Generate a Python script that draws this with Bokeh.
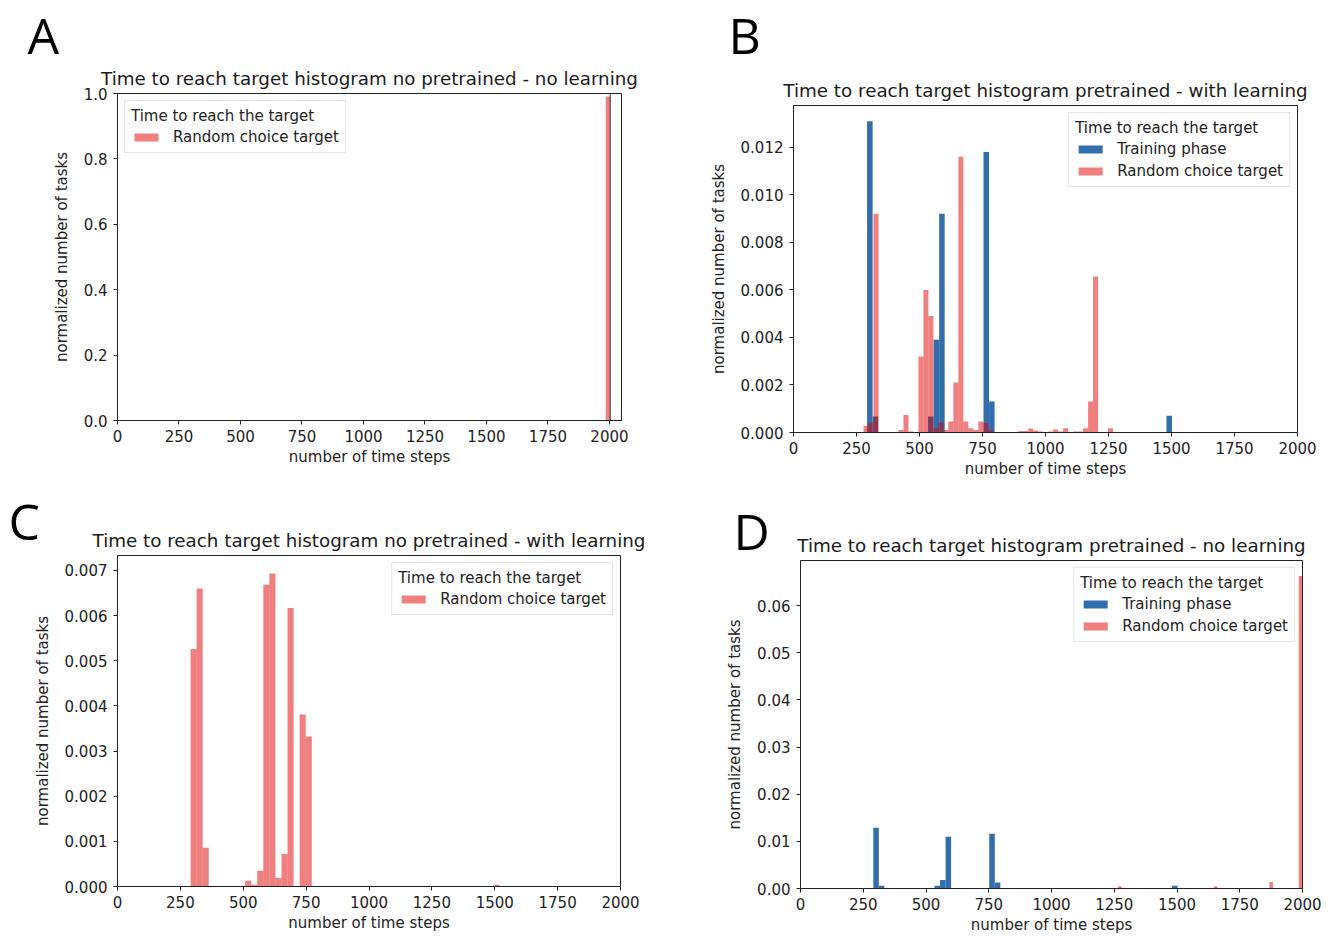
from bokeh.plotting import figure
from bokeh.models import (ColumnDataSource, Range1d, FixedTicker, PrintfTickFormatter,
                          Label, Legend, LegendItem, Span)
from bokeh.layouts import column, row
from bokeh.embed import file_html
from bokeh.resources import INLINE

# ---------------- data ----------------
X_TICKS = [0, 250, 500, 750, 1000, 1250, 1500, 1750, 2000]

# Panel A: no pretrained - no learning
A_RANDOM_LEFT = [1985]
A_RANDOM_WIDTH = 17
A_RANDOM_HEIGHT = [0.99]

# Panel B: pretrained - with learning
B_TRAIN_LEFT = [292, 314, 534, 556, 578, 754, 776, 1480]
B_TRAIN_WIDTH = 22
B_TRAIN_HEIGHT = [0.0131, 0.00067, 0.00067, 0.0039, 0.0092, 0.0118, 0.0013, 0.0007]

B_RANDOM_LEFT = [278.0, 297.8, 317.6, 416.6, 436.4, 456.2, 495.8, 515.6, 535.4, 555.2,
                 575.0, 594.8, 614.6, 634.4, 654.2, 674.0, 693.8, 713.6, 733.4, 753.2,
                 773.0, 891.8, 911.6, 931.4, 951.2, 971.0, 1010.6, 1030.4, 1050.2, 1070.0,
                 1109.6, 1129.4, 1149.2, 1169.0, 1188.8, 1248.2]
B_RANDOM_WIDTH = 19.8
B_RANDOM_HEIGHT = [0.00028, 0.00042, 0.0092, 0.0001, 0.00074, 0.00004, 0.0032, 0.0060, 0.0049, 0.00018,
                   0.00042, 0.0001, 0.00046, 0.0021, 0.0116, 0.00046, 0.00018, 0.0001, 0.00046, 0.0004,
                   0.0001, 0.00006, 0.00006, 0.00017, 0.00008, 0.00004, 0.00004, 0.00013, 0.00004, 0.00018,
                   0.00004, 0.00004, 0.00018, 0.0013, 0.00656, 0.00018]

# Panel C: no pretrained - with learning
C_RANDOM_LEFT = [290.5, 314.6, 338.7, 507.4, 531.5, 555.6, 579.7, 603.8, 627.9, 652.0,
                 676.1, 724.3, 748.4, 1495.5]
C_RANDOM_WIDTH = 24.1
C_RANDOM_HEIGHT = [0.00526, 0.0066, 0.00086, 0.00013, 0.00004, 0.00035, 0.00668, 0.00693, 0.00019, 0.00072,
                   0.00617, 0.00381, 0.00332, 0.00004]

# Panel D: pretrained - no learning
D_TRAIN_LEFT = [290, 312, 534, 556, 578, 752, 774, 1480]
D_TRAIN_WIDTH = 22
D_TRAIN_HEIGHT = [0.0129, 0.00056, 0.00056, 0.0018, 0.0110, 0.0116, 0.00125, 0.00056]

D_RANDOM_LEFT = [1265, 1647, 1868, 1985.3]
D_RANDOM_WIDTH = 14.7
D_RANDOM_HEIGHT = [0.0005, 0.0005, 0.0014, 0.0663]

BLUE = "#326eab"
RED = "#e10000"
RED_ALPHA = 0.5
FONT = "DejaVu Sans"
LEGEND_TITLE = "Time to reach the target"
TXT = "15px"


def src(lefts, width, heights):
    return ColumnDataSource(dict(left=lefts, right=[l + width for l in lefts],
                                 top=heights, bottom=[0] * len(heights)))


def make_panel(title, letter, letter_xy, letter_side, width, height, borders, xmax, ymax,
               yticks, yfmt, series, legend_loc):
    left, right, top, bottom = borders
    p = figure(width=width, height=height, output_backend="svg", toolbar_location=None,
               x_range=Range1d(0, xmax), y_range=Range1d(0, ymax),
               min_border_left=left, min_border_right=right,
               min_border_top=top, min_border_bottom=bottom)
    p.background_fill_color = "white"
    p.border_fill_color = "white"
    p.outline_line_color = "#222222"
    p.outline_line_width = 1
    p.xgrid.visible = False
    p.ygrid.visible = False

    p.title.text = title
    p.title.text_font = FONT
    p.title.text_font_size = "18.3px"
    p.title.text_font_style = "normal"
    p.title.text_color = "#1a1a1a"
    p.title.align = "center"
    p.title.standoff = 9

    for ax in (p.xaxis[0], p.yaxis[0]):
        ax.axis_line_color = "#222222"
        ax.major_tick_line_color = "#222222"
        ax.major_tick_out = 4
        ax.major_tick_in = 0
        ax.minor_tick_line_color = None
        ax.major_label_text_font = FONT
        ax.major_label_text_font_size = TXT
        ax.major_label_text_color = "#222222"
        ax.axis_label_text_font = FONT
        ax.axis_label_text_font_size = TXT
        ax.axis_label_text_font_style = "normal"
        ax.axis_label_text_color = "#222222"

    p.xaxis.ticker = FixedTicker(ticks=X_TICKS)
    p.xaxis.axis_label = "number of time steps"
    p.xaxis.major_label_standoff = 5
    p.xaxis.axis_label_standoff = 3
    p.yaxis.ticker = FixedTicker(ticks=yticks)
    p.yaxis.formatter = PrintfTickFormatter(format=yfmt)
    p.yaxis.axis_label = "normalized number of tasks"
    p.yaxis.major_label_standoff = 6
    p.yaxis.axis_label_standoff = 10

    items = []
    for label, s, color, alpha in series:
        r = p.quad(left="left", right="right", top="top", bottom="bottom", source=s,
                   fill_color=color, fill_alpha=alpha, line_color=None)
        items.append(LegendItem(label=label, renderers=[r]))

    leg = Legend(items=items, location=legend_loc, title=LEGEND_TITLE)
    leg.title_text_font = FONT
    leg.title_text_font_size = TXT
    leg.title_text_font_style = "normal"
    leg.title_text_color = "#222222"
    leg.title_standoff = 3
    leg.label_text_font = FONT
    leg.label_text_font_size = TXT
    leg.label_text_color = "#222222"
    leg.glyph_width = 30
    leg.glyph_height = 10
    leg.label_height = 18
    leg.label_standoff = 12
    leg.spacing = 4
    leg.padding = 6
    leg.margin = 7
    leg.border_line_color = "#cccccc"
    leg.border_line_width = 1
    leg.background_fill_alpha = 0.85
    p.add_layout(leg)

    # panel letter, placed in a side panel (with room to spare) so it is not clipped to the frame
    p.add_layout(Label(x=letter_xy[0], y=letter_xy[1], x_units="canvas", y_units="canvas",
                       text=letter, text_font="Open Sans", text_font_size="50px",
                       text_color="black", text_baseline="alphabetic", text_align="left"),
                 letter_side)
    return p


pA = make_panel("Time to reach target histogram no pretrained - no learning", "A", (27, 34), "right",
                680, 480, (117, 59, 93, 60), 2049, 1.0,
                [0.0, 0.2, 0.4, 0.6, 0.8, 1.0], "%.1f",
                [("Random choice target", src(A_RANDOM_LEFT, A_RANDOM_WIDTH, A_RANDOM_HEIGHT), RED, RED_ALPHA)],
                "top_left")
pA.add_layout(Span(location=A_RANDOM_LEFT[0] + A_RANDOM_WIDTH + 1, dimension="height",
                   line_color="#222222", line_width=1))

pB = make_panel("Time to reach target histogram pretrained - with learning", "B", (48, 34), "right",
                655, 480, (113, 38, 105, 47), 2000, 0.01376,
                [0.0, 0.002, 0.004, 0.006, 0.008, 0.010, 0.012], "%.3f",
                [("Training phase", src(B_TRAIN_LEFT, B_TRAIN_WIDTH, B_TRAIN_HEIGHT), BLUE, 1.0),
                 ("Random choice target", src(B_RANDOM_LEFT, B_RANDOM_WIDTH, B_RANDOM_HEIGHT), RED, RED_ALPHA)],
                "top_right")

pC = make_panel("Time to reach target histogram no pretrained - with learning", "C", (8, 40), "right",
                680, 460, (117, 60, 75, 54), 2000, 0.00733,
                [0.0, 0.001, 0.002, 0.003, 0.004, 0.005, 0.006, 0.007], "%.3f",
                [("Random choice target", src(C_RANDOM_LEFT, C_RANDOM_WIDTH, C_RANDOM_HEIGHT), RED, RED_ALPHA)],
                "top_right")

pD = make_panel("Time to reach target histogram pretrained - no learning", "D", (53, 50), "left",
                655, 460, (120, 33, 80, 52), 2000, 0.0696,
                [0.0, 0.01, 0.02, 0.03, 0.04, 0.05, 0.06], "%.2f",
                [("Training phase", src(D_TRAIN_LEFT, D_TRAIN_WIDTH, D_TRAIN_HEIGHT), BLUE, 1.0),
                 ("Random choice target", src(D_RANDOM_LEFT, D_RANDOM_WIDTH, D_RANDOM_HEIGHT), RED, RED_ALPHA)],
                "top_right")

layout = column(row(column(pA), column(pB)), row(column(pC), column(pD)))

open("out.html", "w").write(file_html(layout, INLINE))
